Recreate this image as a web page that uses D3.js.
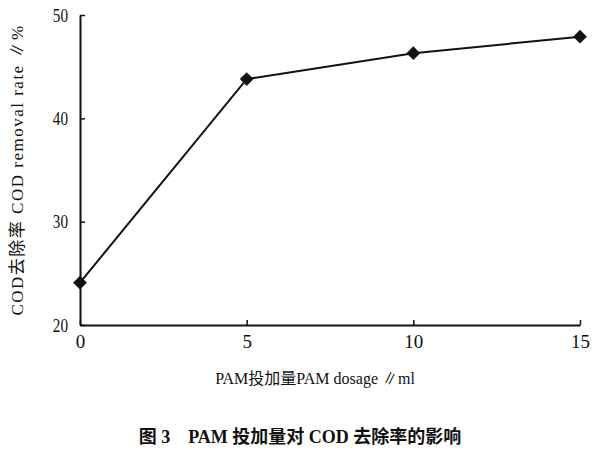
<!DOCTYPE html>
<html><head><meta charset="utf-8">
<script src="https://cdn.jsdelivr.net/npm/d3@7"></script>
<style>
html,body{margin:0;padding:0;background:#fff;}
svg text{fill:#111;}
</style></head>
<body>
<svg id="chart" width="600" height="450"></svg>
<script>
const dosage = [0, 5, 10, 15];
const removalRate = [24.1, 43.8, 46.3, 47.9];
const xTicks = [0, 5, 10, 15];
const yTicks = [20, 30, 40, 50];
const xLabel = "PAM投加量PAM dosage ∥ml";
const yLabel = "COD去除率 COD removal rate ∥%";
const caption = "图 3　PAM 投加量对 COD 去除率的影响";

(function(){
const svg = d3.select("#chart");
const mLeft = 80, mRight = 580, mTop = 15, mBottom = 325;
const x = d3.scaleLinear().domain([0, 15]).range([mLeft, mRight]);
const y = d3.scaleLinear().domain([20, 50]).range([mBottom, mTop]);

const serif = "'Liberation Serif', 'Noto Sans CJK SC', serif";

const xAxis = svg.append("g").attr("transform", `translate(0,${mBottom})`)
  .call(d3.axisBottom(x).tickValues(xTicks).tickSize(-5).tickPadding(12).tickSizeOuter(0));
const yAxis = svg.append("g").attr("transform", `translate(${mLeft},0)`)
  .call(d3.axisLeft(y).tickValues(yTicks).tickSize(-5).tickPadding(12).tickSizeOuter(0));
[xAxis, yAxis].forEach(a => {
  a.select(".domain").attr("stroke", "#111").attr("stroke-width", 2);
  a.selectAll(".tick line").attr("stroke", "#111").attr("stroke-width", 1.5);
  a.selectAll(".tick text").attr("font-family", serif).attr("font-size", 19).attr("fill", "#111");
});
yAxis.selectAll(".tick text").each(function(){
  const t = d3.select(this);
  t.attr("x", (+t.attr("x")) / 0.8).attr("transform", "scale(0.8,1)");
});
xAxis.selectAll(".tick text").attr("dy", "0.6em");

const pts = dosage.map((d, i) => [d, removalRate[i]]);
svg.append("path").datum(pts)
  .attr("fill", "none").attr("stroke", "#111").attr("stroke-width", 2)
  .attr("d", d3.line().x(d => x(d[0])).y(d => y(d[1])));

svg.selectAll(".pt").data(pts).join("path")
  .attr("class", "pt")
  .attr("transform", d => `translate(${x(d[0])},${y(d[1])})`)
  .attr("d", d3.symbol().type(d3.symbolDiamond2).size(120))
  .attr("fill", "#111");

svg.append("text").attr("x", 315).attr("y", 384).attr("text-anchor", "middle")
  .attr("font-family", serif).attr("font-size", 16).text(xLabel);

svg.append("text").attr("transform", "translate(23,170) rotate(-90)").attr("text-anchor", "middle")
  .attr("font-family", serif).attr("font-size", 17).attr("letter-spacing", 1.5).text(yLabel);

svg.append("text").attr("x", 300).attr("y", 443).attr("text-anchor", "middle")
  .attr("font-family", serif).attr("font-size", 18).attr("font-weight", "bold").text(caption);
})();
</script>
</body></html>
